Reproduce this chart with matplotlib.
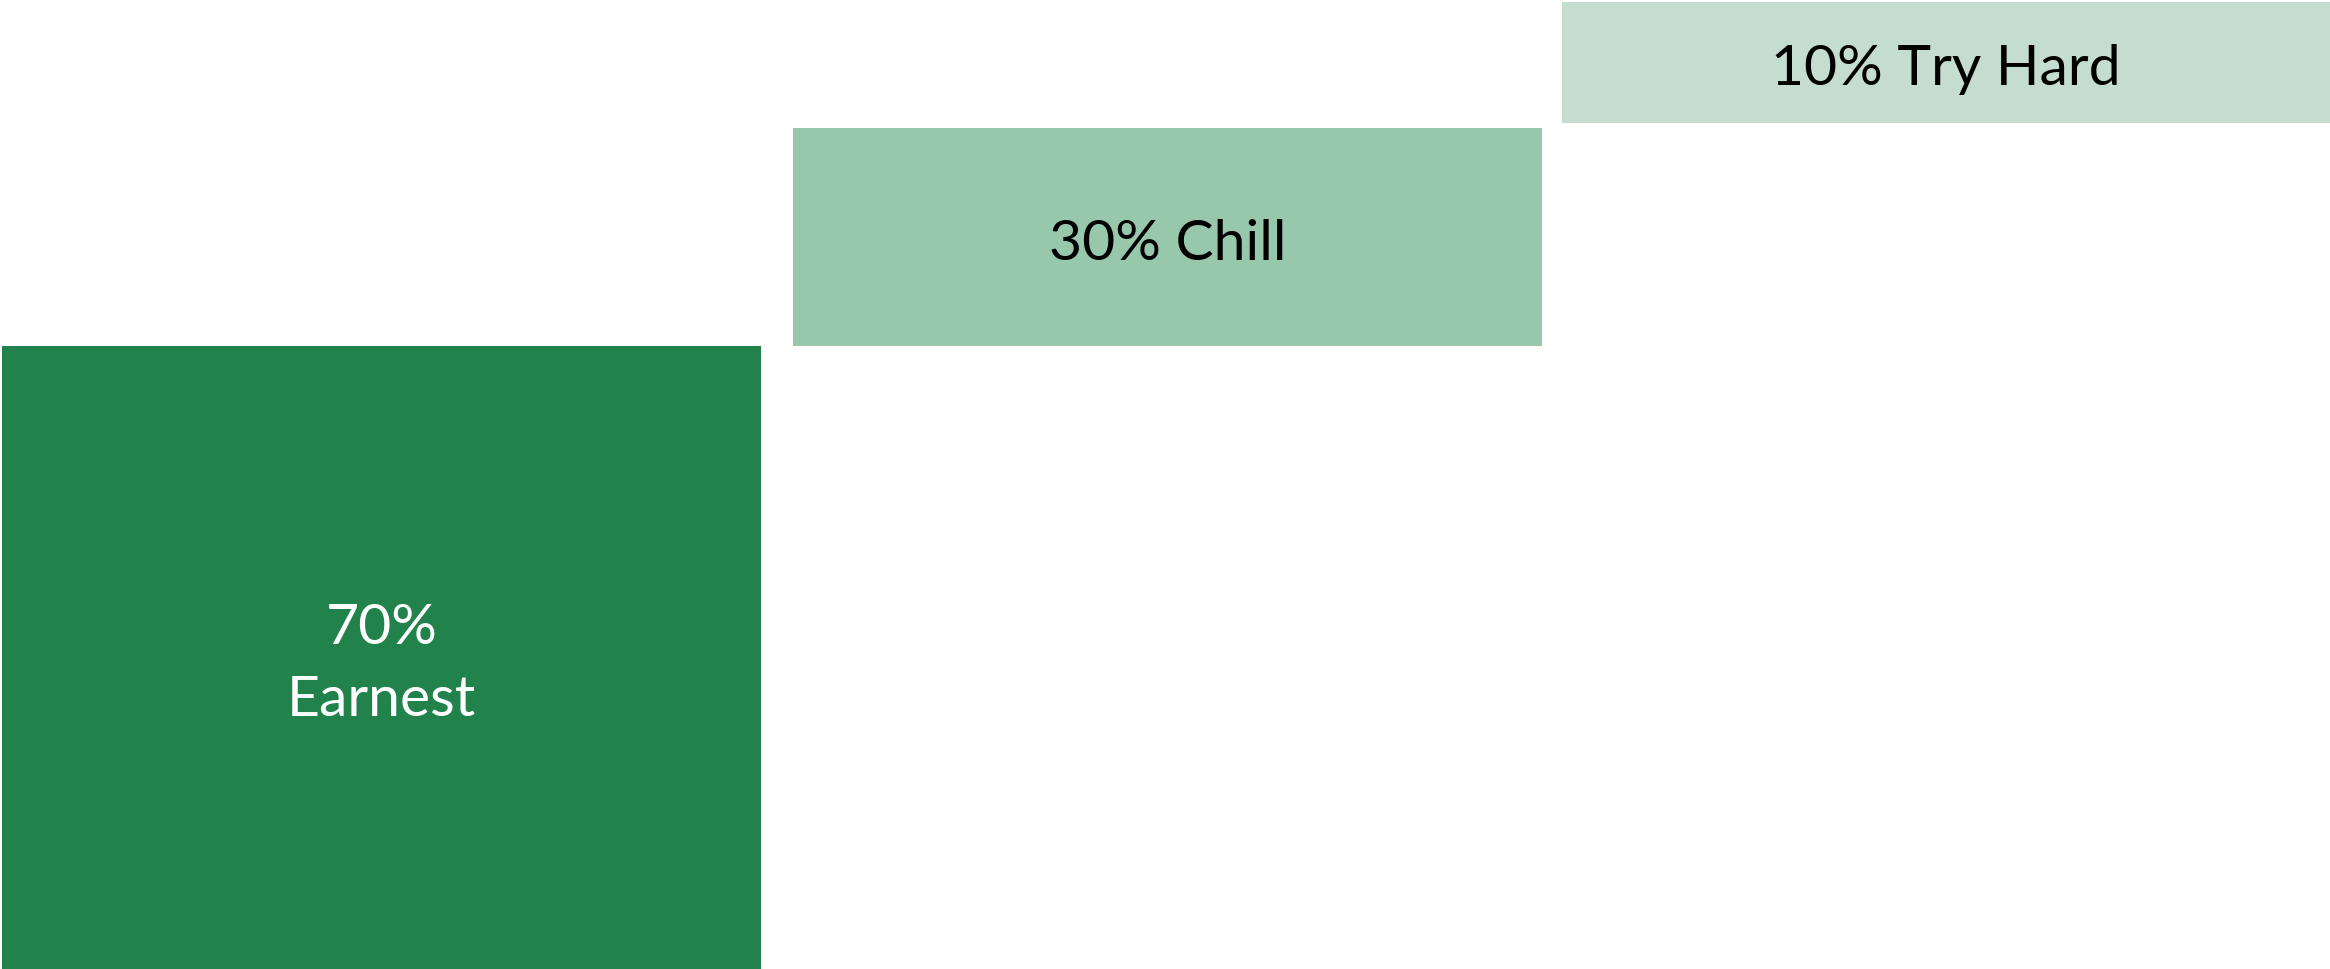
import matplotlib.pyplot as plt

# data
categories = ['Earnest', 'Chill', 'Try Hard']
shares = [70, 30, 10]
# bar extents as drawn in the picture (chart units)
bar_bottoms = [0, 70, 95.1]
bar_heights = [70, 24.5, 13.6]
labels = ['70%\nEarnest', '30% Chill', '10% Try Hard']

colors = ['#21834B', '#98C8AB', '#C5DDD0']
text_colors = ['white', 'black', 'black']
widths = [0.97, 0.958, 0.982]

plt.rcParams['font.family'] = ['Lato', 'DejaVu Sans']

fig = plt.figure(figsize=(23.3, 9.69), dpi=100)
ax = fig.add_axes([0, 0, 1, 1])

x = [0, 1.004, 1.999]
ax.bar(x, bar_heights, bottom=bar_bottoms, width=widths, color=colors)

for i in range(len(categories)):
    ax.text(x[i], bar_bottoms[i] + bar_heights[i] / 2 - 0.8, labels[i],
            ha='center', va='center', color=text_colors[i],
            fontsize=41, linespacing=1.5)

ax.set_xlim(-0.488, 2.49)
ax.set_ylim(0, 108.9)
ax.axis('off')

fig.savefig('out.png', dpi=100, facecolor='white')
